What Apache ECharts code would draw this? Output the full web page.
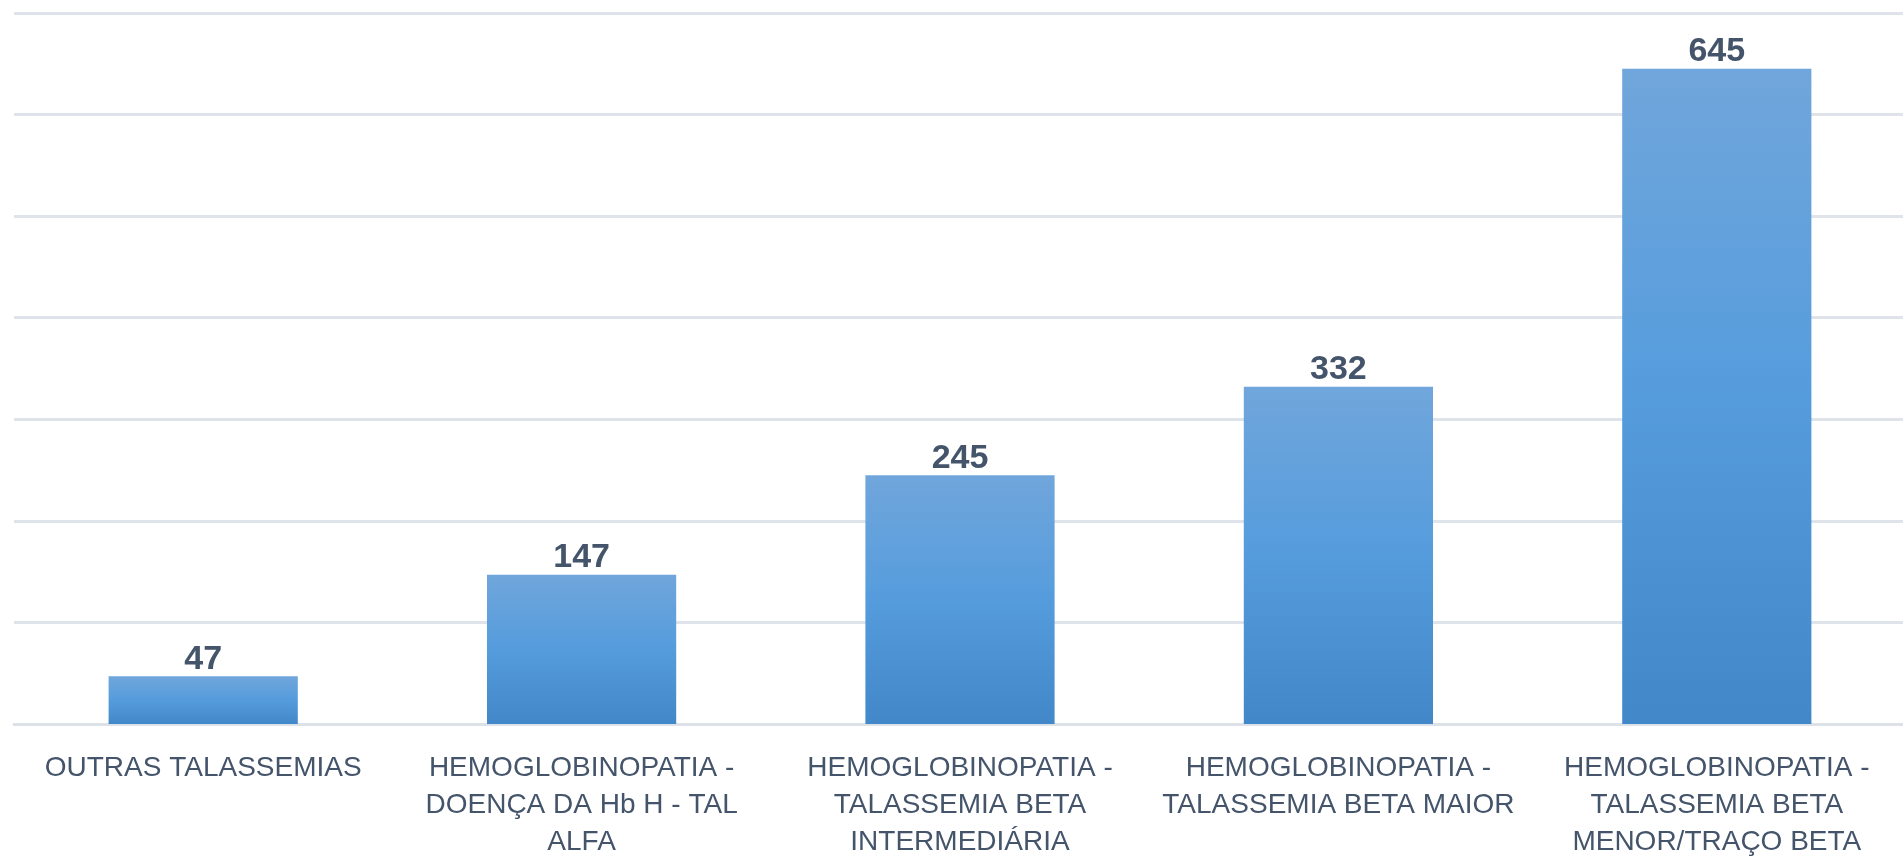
<!DOCTYPE html>
<html>
<head>
<meta charset="utf-8">
<script src="https://cdn.jsdelivr.net/npm/echarts@6/dist/echarts.min.js"></script>
<style>
  html, body { margin: 0; padding: 0; background: #ffffff; }
  #chart { width: 1903px; height: 859px; }
</style>
</head>
<body>
<div id="chart"></div>
<script>
const categories = [
  "OUTRAS TALASSEMIAS",
  "HEMOGLOBINOPATIA -\nDOENÇA DA Hb H - TAL\nALFA",
  "HEMOGLOBINOPATIA -\nTALASSEMIA BETA\nINTERMEDIÁRIA",
  "HEMOGLOBINOPATIA -\nTALASSEMIA BETA MAIOR",
  "HEMOGLOBINOPATIA -\nTALASSEMIA BETA\nMENOR/TRAÇO BETA"
];
const values = [47, 147, 245, 332, 645];
const yTicks = [0, 100, 200, 300, 400, 500, 600, 700];

const chart = echarts.init(document.getElementById('chart'));
chart.setOption({
  animation: false,
  backgroundColor: '#ffffff',
  grid: { left: 14, top: 13, width: 1892, bottom: 135, containLabel: false, outerBoundsMode: 'none' },
  xAxis: {
    type: 'category',
    data: categories,
    axisLine: { show: true, lineStyle: { color: '#dde1e8', width: 3 } },
    axisTick: { show: false },
    axisLabel: {
      interval: 0,
      margin: 26,
      color: '#44546a',
      fontFamily: 'Liberation Sans',
      fontSize: 28,
      lineHeight: 37,
      align: 'center'
    }
  },
  yAxis: {
    type: 'value',
    min: yTicks[0],
    max: yTicks[yTicks.length - 1],
    interval: yTicks[1] - yTicks[0],
    axisLine: { show: false },
    axisTick: { show: false },
    axisLabel: { show: false },
    splitLine: { show: true, lineStyle: { color: '#dfe3ea', width: 3 } }
  },
  series: [{
    type: 'bar',
    data: values,
    barWidth: '50%',
    itemStyle: {
      color: new echarts.graphic.LinearGradient(0, 0, 0, 1, [
        { offset: 0, color: '#70a6db' },
        { offset: 0.5, color: '#559cdd' },
        { offset: 1, color: '#4288c8' }
      ])
    },
    label: {
      show: true,
      position: 'top',
      distance: 0,
      color: '#44546a',
      fontFamily: 'Liberation Sans',
      fontWeight: 'bold',
      fontSize: 34
    }
  }]
});
</script>
</body>
</html>
